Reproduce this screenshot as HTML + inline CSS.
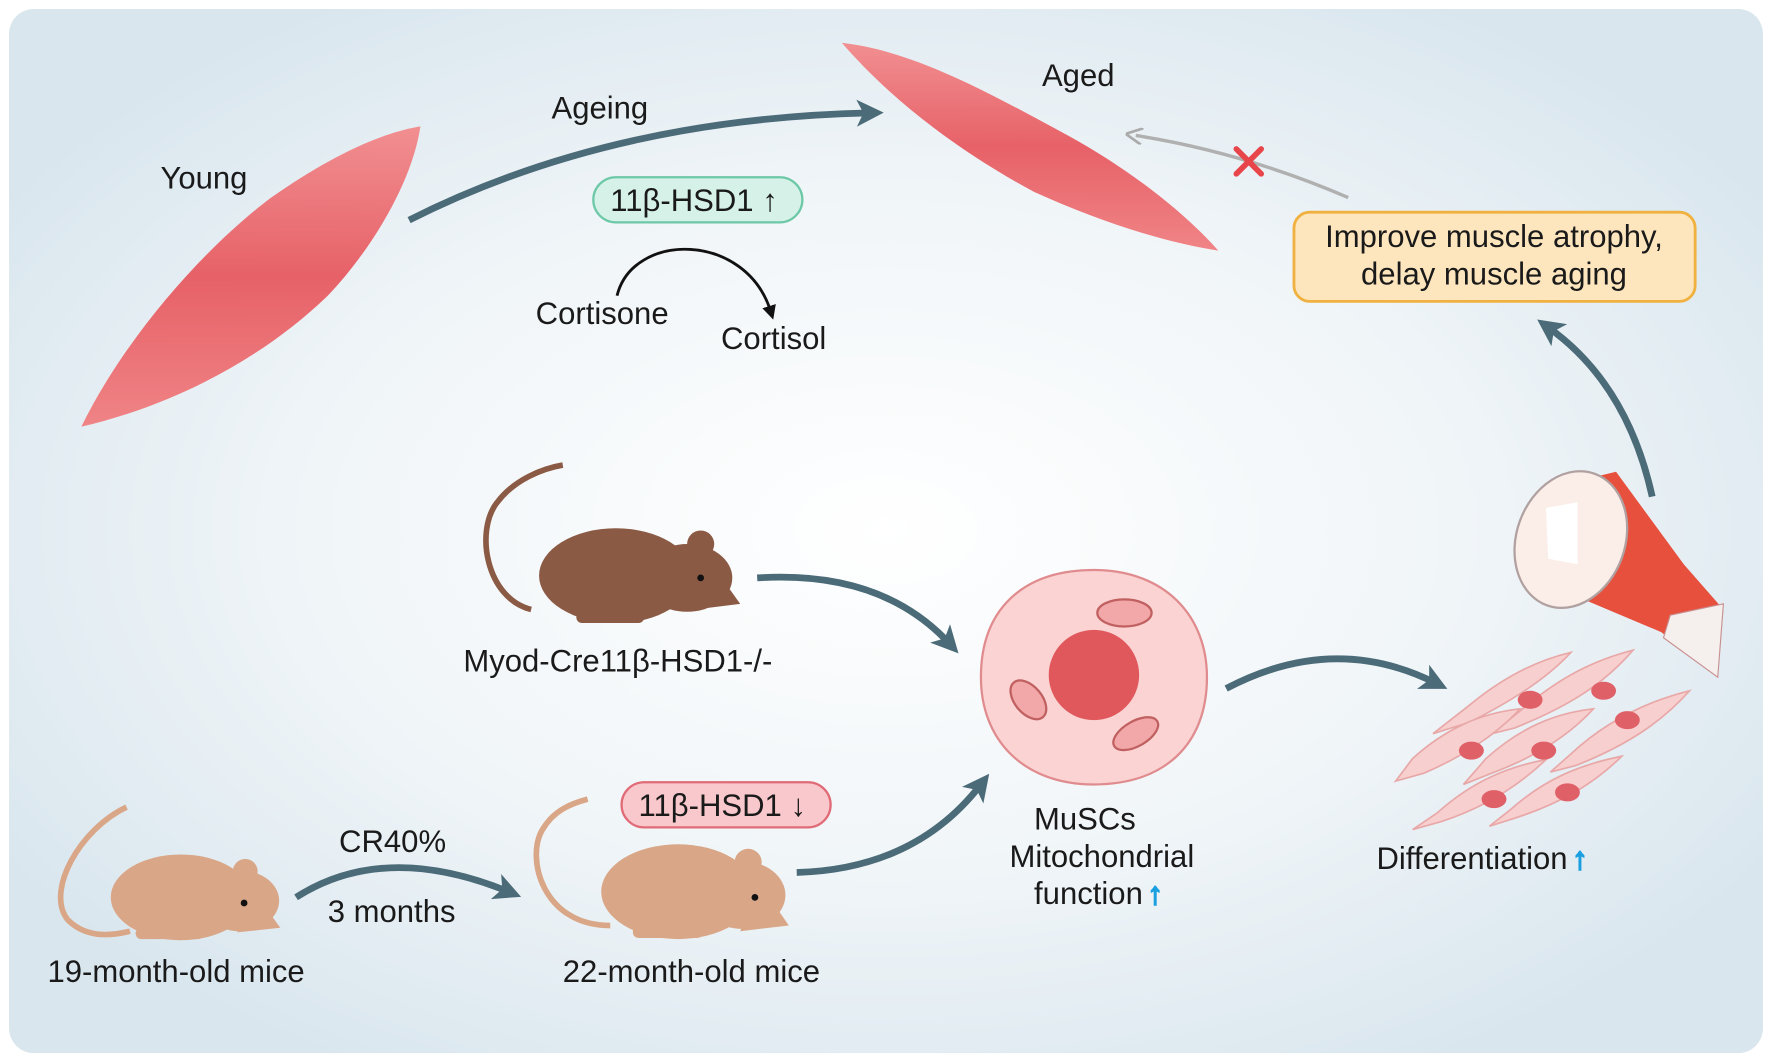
<!DOCTYPE html>
<html><head><meta charset="utf-8"><style>
html,body{margin:0;padding:0;background:#fff;}
svg{display:block;}
text{font-family:"Liberation Sans",Arial,sans-serif;fill:#1a1a1a;font-size:27.5px;}
</style></head><body>
<svg width="1772" height="1061" viewBox="0 0 1568 940" preserveAspectRatio="none" xmlns="http://www.w3.org/2000/svg">
<defs>
<radialGradient id="bg" cx="0.5" cy="0.5" r="0.6">
<stop offset="0" stop-color="#ffffff"/><stop offset="0.55" stop-color="#f0f5f8"/><stop offset="1" stop-color="#d9e6ee"/>
</radialGradient>
<linearGradient id="mus" x1="0" y1="0" x2="0" y2="1">
<stop offset="0" stop-color="#f28a8c"/><stop offset="0.5" stop-color="#e65a60"/><stop offset="1" stop-color="#f07e80"/>
</linearGradient>
<marker id="ah" markerWidth="4" markerHeight="4" refX="2" refY="2" orient="auto" markerUnits="strokeWidth">
<path d="M0,0 L4,2 L0,4 L1,2 z" fill="#4b6b78"/></marker>
<marker id="ahg" markerWidth="5" markerHeight="5" refX="2" refY="2.5" orient="auto" markerUnits="strokeWidth">
<path d="M0,0 L5,2.5 L0,5" fill="none" stroke="#aaa" stroke-width="0.8"/></marker>
<marker id="ahk" markerWidth="5" markerHeight="5" refX="2" refY="2.5" orient="auto" markerUnits="strokeWidth">
<path d="M0,0 L5,2.5 L0,5 z" fill="#111"/></marker>
</defs>
<rect x="8" y="8" width="1552" height="925" rx="22" fill="url(#bg)"/>

<path d="M72,378 C110,300 180,220 240,175 C290,140 335,118 372,112 C365,160 330,220 290,262 C230,320 150,360 72,378 z" fill="url(#mus)" opacity="0.95"/>
<path d="M745,38 C810,45 880,85 945,120 C1000,150 1050,190 1078,222 C1030,215 970,195 915,170 C850,135 790,90 745,38 z" fill="url(#mus)" opacity="0.95"/>

<text x="142" y="167">Young</text>
<text x="488" y="105">Ageing</text>
<text x="922" y="76">Aged</text>
<path d="M362,195 Q540,105 770,100" fill="none" stroke="#4b6b78" stroke-width="6" marker-end="url(#ah)"/>

<rect x="525" y="157" width="185" height="40" rx="20" fill="#d6f2e8" stroke="#6cc8a6" stroke-width="2"/>
<text x="540" y="187">11β-HSD1 <tspan font-weight="bold">↑</tspan></text>
<path d="M546,262 C560,205 660,205 682,276" fill="none" stroke="#111" stroke-width="2.5" marker-end="url(#ahk)"/>
<text x="474" y="287">Cortisone</text>
<text x="638" y="309">Cortisol</text>

<path d="M1193,175 Q1100,135 1005,120" fill="none" stroke="#b0b0b0" stroke-width="3" marker-end="url(#ahg)"/>
<path d="M1094,132 L1116,154 M1116,132 L1094,154" stroke="#e8454a" stroke-width="5" stroke-linecap="round"/>

<rect x="1145" y="188" width="355" height="79" rx="14" fill="#fde6bd" stroke="#f0b140" stroke-width="2.5"/>
<text x="1322" y="219" text-anchor="middle">Improve muscle atrophy,</text>
<text x="1322" y="252" text-anchor="middle">delay muscle aging</text>
<path d="M1462,440 Q1440,340 1370,290" fill="none" stroke="#4b6b78" stroke-width="6" marker-end="url(#ah)"/>

<g fill="#8b5a44">
<path d="M470,540 C430,530 420,470 440,445 C455,425 480,415 498,412" fill="none" stroke="#8b5a44" stroke-width="5"/>
<ellipse cx="545" cy="510" rx="68" ry="42"/>
<ellipse cx="608" cy="512" rx="40" ry="30"/>
<ellipse cx="620" cy="482" rx="12" ry="12"/>
<path d="M630,500 L655,535 L615,540 z"/>
<rect x="510" y="540" width="60" height="12" rx="5"/>
</g>
<circle cx="620" cy="512" r="3" fill="#111"/>
<text x="410" y="595">Myod-Cre11β-HSD1-/-</text>

<g fill="#d9a787">
<path d="M112,715 C70,735 40,790 60,815 C75,830 95,830 115,825" fill="none" stroke="#d9a787" stroke-width="5"/>
<ellipse cx="160" cy="795" rx="62" ry="38"/>
<ellipse cx="212" cy="798" rx="35" ry="27"/>
<ellipse cx="217" cy="772" rx="11" ry="11"/>
<path d="M225,790 L248,822 L210,826 z"/>
<rect x="120" y="822" width="60" height="10" rx="5"/>
</g>
<circle cx="216" cy="800" r="3" fill="#111"/>
<text x="42" y="870">19-month-old mice</text>

<path d="M262,795 Q340,745 450,790" fill="none" stroke="#4b6b78" stroke-width="6" marker-end="url(#ah)"/>
<text x="300" y="755">CR40%</text>
<text x="290" y="817">3 months</text>

<g fill="#d9a787">
<path d="M540,820 C480,820 465,760 480,735 C490,718 505,712 520,708" fill="none" stroke="#d9a787" stroke-width="5"/>
<ellipse cx="600" cy="790" rx="68" ry="42"/>
<ellipse cx="657" cy="793" rx="38" ry="30"/>
<ellipse cx="662" cy="764" rx="12" ry="12"/>
<path d="M672,782 L698,820 L655,825 z"/>
<rect x="560" y="820" width="62" height="11" rx="5"/>
</g>
<circle cx="668" cy="795" r="3" fill="#111"/>
<rect x="550" y="693" width="185" height="40" rx="20" fill="#f9c8cc" stroke="#e06a76" stroke-width="2"/>
<text x="565" y="723">11β-HSD1 <tspan font-weight="bold">↓</tspan></text>
<text x="498" y="870">22-month-old mice</text>

<path d="M705,773 Q810,770 868,695" fill="none" stroke="#4b6b78" stroke-width="6" marker-end="url(#ah)"/>
<path d="M670,512 Q780,505 840,570" fill="none" stroke="#4b6b78" stroke-width="6" marker-end="url(#ah)"/>

<path d="M968,505 C1030,505 1068,545 1068,600 C1068,660 1030,695 968,695 C905,695 868,655 868,600 C868,540 905,505 968,505 z" fill="#fbd3d3" stroke="#e08c8e" stroke-width="2"/>
<circle cx="968" cy="598" r="40" fill="#e0585c"/>
<ellipse cx="995" cy="543" rx="24" ry="12" fill="#f2a7a8" stroke="#c06060" stroke-width="2"/>
<ellipse cx="910" cy="620" rx="12" ry="20" fill="#f2a7a8" stroke="#c06060" stroke-width="2" transform="rotate(-40 910 620)"/>
<ellipse cx="1005" cy="650" rx="22" ry="11" fill="#f2a7a8" stroke="#c06060" stroke-width="2" transform="rotate(-30 1005 650)"/>
<text x="960" y="735" text-anchor="middle">MuSCs</text>
<text x="975" y="768" text-anchor="middle">Mitochondrial</text>
<text x="915" y="801">function<tspan font-weight="bold" style="fill:#1aa0e0;stroke:#1aa0e0;stroke-width:1.5" dx="4">↑</tspan></text>

<path d="M1085,610 Q1180,560 1270,605" fill="none" stroke="#4b6b78" stroke-width="6" marker-end="url(#ah)"/>

<path d="M1380,430 L1430,418 L1490,500 L1525,540 L1520,600 L1470,560 L1375,520 z" fill="#e8503e"/>
<path d="M1478,545 L1525,535 L1520,600 L1472,565 z" fill="#f5f0ee" stroke="#c89090"/>
<ellipse cx="1390" cy="478" rx="48" ry="62" fill="#fbeee8" stroke="#b0a0a0" stroke-width="2" transform="rotate(20 1390 478)"/>
<path d="M1368,450 L1396,445 L1396,500 L1370,495 z" fill="#fff"/>

<g fill="#f8cfcf" stroke="#e8a8a8" stroke-width="1.5">
<path d="M1300,625 C1330,600 1360,585 1390,578 C1370,600 1340,620 1300,640 L1268,650 z"/>
<path d="M1345,630 C1380,600 1410,585 1445,576 C1420,605 1390,625 1340,645 L1320,650 z"/>
<path d="M1250,672 C1280,645 1310,632 1345,628 C1325,650 1295,670 1260,685 L1235,692 z"/>
<path d="M1315,672 C1345,645 1375,632 1410,628 C1390,650 1360,670 1320,685 L1295,695 z"/>
<path d="M1390,668 C1420,640 1455,622 1495,612 C1470,640 1440,660 1395,678 L1372,684 z"/>
<path d="M1272,720 C1300,695 1330,680 1368,673 C1345,695 1315,715 1275,728 L1250,735 z"/>
<path d="M1337,717 C1365,692 1395,678 1435,670 C1410,695 1380,712 1340,725 L1318,732 z"/>
</g>
<g fill="#e06068">
<ellipse cx="1354" cy="620" rx="11" ry="8"/><ellipse cx="1419" cy="612" rx="11" ry="8"/>
<ellipse cx="1302" cy="665" rx="11" ry="8"/><ellipse cx="1366" cy="665" rx="11" ry="8"/>
<ellipse cx="1440" cy="638" rx="11" ry="8"/><ellipse cx="1322" cy="708" rx="11" ry="8"/>
<ellipse cx="1387" cy="702" rx="11" ry="8"/>
</g>
<text x="1218" y="770">Differentiation<tspan font-weight="bold" style="fill:#1aa0e0;stroke:#1aa0e0;stroke-width:1.5" dx="4">↑</tspan></text>
</svg>
</body></html>
